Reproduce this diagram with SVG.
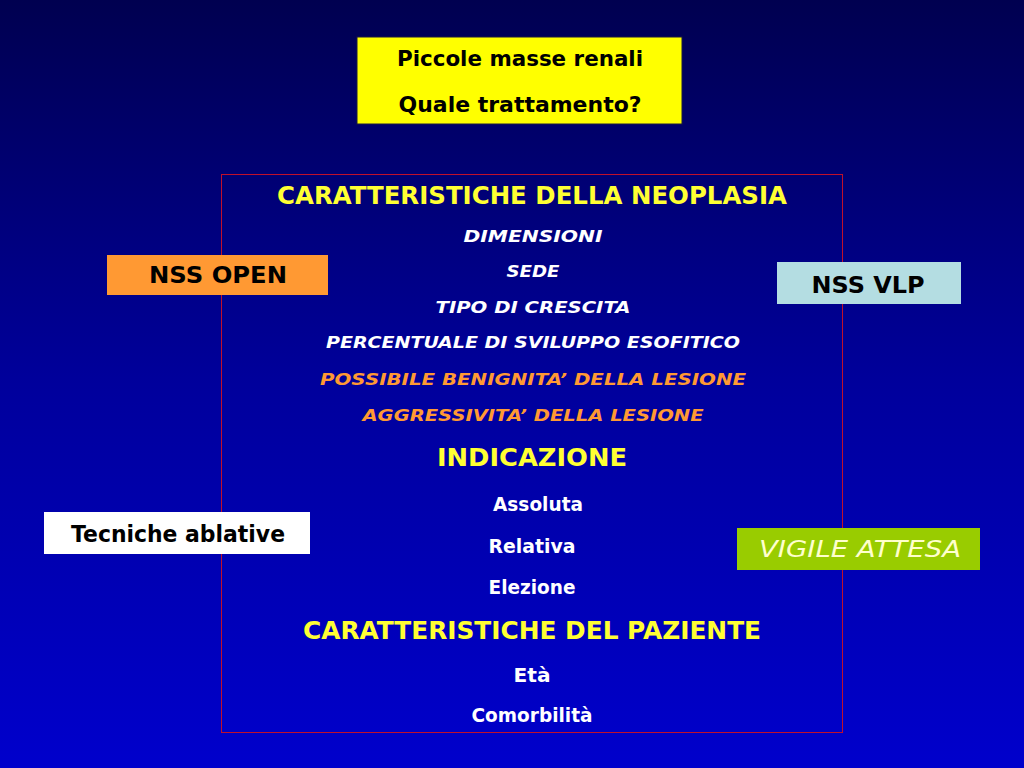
<svg xmlns="http://www.w3.org/2000/svg" width="1024" height="768" viewBox="0 0 1024 768">
<defs>
<linearGradient id="bg" x1="0" y1="0" x2="0" y2="1">
<stop offset="0" stop-color="#000050"/>
<stop offset="0.5" stop-color="#00009c"/>
<stop offset="1" stop-color="#0000cc"/>
</linearGradient>
<style>
text{font-family:"DejaVu Sans","Liberation Sans",sans-serif;font-weight:bold;text-anchor:middle}
.yel{fill:#ffff33}
.wh{fill:#ffffff}
.org{fill:#ff9933}
.it{font-style:italic}
.blk{fill:#000000}
</style>
</defs>
<rect x="0" y="0" width="1024" height="768" fill="url(#bg)"/>
<g id="frame">
<rect x="221.5" y="174.5" width="621" height="558" fill="none" stroke="#c0102a" stroke-width="1"/>
</g>
<g id="title">
<rect x="357" y="37" width="325" height="87" fill="#ffff00" stroke="#1a1a40" stroke-width="1"/>
<text x="520" y="66" font-size="21" class="blk" textLength="246" lengthAdjust="spacingAndGlyphs">Piccole masse renali</text>
<text x="520" y="112" font-size="21" class="blk" textLength="243" lengthAdjust="spacingAndGlyphs">Quale trattamento?</text>
</g>
<g id="content">
<text x="532" y="204" font-size="24" class="yel" textLength="510" lengthAdjust="spacingAndGlyphs">CARATTERISTICHE DELLA NEOPLASIA</text>
<text x="533" y="242" font-size="16" class="wh it" textLength="139" lengthAdjust="spacingAndGlyphs">DIMENSIONI</text>
<text x="533" y="277" font-size="16" class="wh it" textLength="53" lengthAdjust="spacingAndGlyphs">SEDE</text>
<text x="533" y="313" font-size="16" class="wh it" textLength="195" lengthAdjust="spacingAndGlyphs">TIPO DI CRESCITA</text>
<text x="533" y="348" font-size="16" class="wh it" textLength="414" lengthAdjust="spacingAndGlyphs">PERCENTUALE DI SVILUPPO ESOFITICO</text>
<text x="533" y="385" font-size="16" class="org it" textLength="426" lengthAdjust="spacingAndGlyphs">POSSIBILE BENIGNITA’ DELLA LESIONE</text>
<text x="533" y="421" font-size="16" class="org it" textLength="341" lengthAdjust="spacingAndGlyphs">AGGRESSIVITA’ DELLA LESIONE</text>
<text x="532" y="466" font-size="25" class="yel" textLength="190" lengthAdjust="spacingAndGlyphs">INDICAZIONE</text>
<text x="538" y="511" font-size="20" class="wh" textLength="90" lengthAdjust="spacingAndGlyphs">Assoluta</text>
<text x="532" y="553" font-size="20" class="wh" textLength="87" lengthAdjust="spacingAndGlyphs">Relativa</text>
<text x="532" y="594" font-size="20" class="wh" textLength="87" lengthAdjust="spacingAndGlyphs">Elezione</text>
<text x="532" y="639" font-size="24" class="yel" textLength="458" lengthAdjust="spacingAndGlyphs">CARATTERISTICHE DEL PAZIENTE</text>
<text x="532" y="682" font-size="20" class="wh" textLength="37" lengthAdjust="spacingAndGlyphs">Età</text>
<text x="532" y="722" font-size="20" class="wh" textLength="121" lengthAdjust="spacingAndGlyphs">Comorbilità</text>
</g>
<g id="nss-open">
<rect x="107" y="255" width="221" height="40" fill="#ff9933"/>
<text x="218" y="283" font-size="23" class="blk" textLength="138" lengthAdjust="spacingAndGlyphs">NSS OPEN</text>
</g>
<g id="nss-vlp">
<rect x="777" y="262" width="184" height="42" fill="#b4dde2"/>
<text x="868" y="293" font-size="23" class="blk" textLength="113" lengthAdjust="spacingAndGlyphs">NSS VLP</text>
</g>
<g id="tecniche-ablative">
<rect x="44" y="512" width="266" height="42" fill="#ffffff"/>
<text x="178" y="542" font-size="23" class="blk" textLength="214" lengthAdjust="spacingAndGlyphs">Tecniche ablative</text>
</g>
<g id="vigile-attesa">
<rect x="737" y="528" width="243" height="42" fill="#99cc00"/>
<text x="860" y="557" font-size="23" fill="#ffffcc" style="font-weight:normal;font-style:italic" textLength="202" lengthAdjust="spacingAndGlyphs">VIGILE ATTESA</text>
</g>
<g id="connectors"/>
</svg>
